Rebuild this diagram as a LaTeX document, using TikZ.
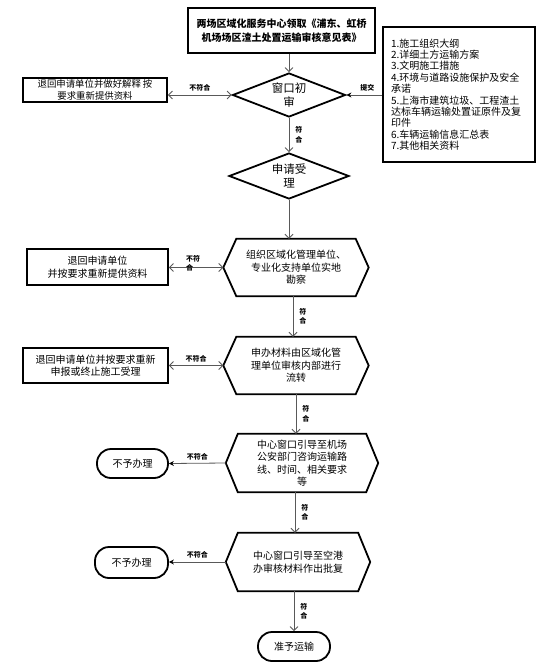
\documentclass[tikz,border=0pt]{standalone}
\usepackage{fontspec}
\setmainfont{Noto Sans CJK SC}
\usetikzlibrary{shapes.geometric,arrows.meta}
\tikzset{
  txt/.style={font=\fontsize{10}{12.5}\selectfont, align=center, inner sep=0pt},
  thickbox/.style={txt, draw=black, line width=1.8pt, rectangle},
  dia/.style={shape=diamond, draw=black, line width=1.8pt, inner sep=0pt, font=\fontsize{11.5}{14}\selectfont, align=center},
  hexbox/.style={txt, rectangle, draw=none},
  hexline/.style={draw=black, line width=1.8pt, line join=miter},
  term/.style={txt, draw=black, line width=1.8pt, rounded corners=14pt},
  lbl/.style={font=\fontsize{7}{9.5}\selectfont\bfseries, inner sep=1pt, align=left},
  arr/.style={draw=black!65, line width=0.8pt, -{Straight Barb[length=4pt,width=8pt]}},
  darr/.style={draw=black!65, line width=0.8pt, {Straight Barb[length=4pt,width=8pt]}-{Straight Barb[length=4pt,width=8pt]}},
  farr/.style={draw=black!65, line width=0.8pt, -{Stealth[length=5pt,width=5pt,color=black]}},
}
\newcommand{\hexdraw}[2]{%
  \draw[hexline] ([xshift=#2]#1.north west) -- ([xshift=-#2]#1.north east) -- (#1.east) -- ([xshift=-#2]#1.south east) -- ([xshift=#2]#1.south west) -- (#1.west) -- cycle;}
\begin{document}
\begin{tikzpicture}[x=1pt,y=-1pt]
\useasboundingbox[fill=white] (0,0) rectangle (555,672);

% top box
\node[thickbox, line width=2.2pt, minimum width=187pt, minimum height=45pt, font=\fontsize{10}{14}\selectfont\bfseries] (top) at (281.5,30.5)
  {两场区域化服务中心领取《浦东、虹桥\\机场场区渣土处置运输审核意见表》};

% material list
\node[draw=black, line width=1.4pt, minimum width=152pt, minimum height=135pt, inner xsep=8pt, inner ysep=0pt, text width=136pt, align=left, font=\fontsize{10}{11.4}\selectfont] (mat) at (459,94.5)
  {1.施工组织大纲\\2.详细土方运输方案\\3.文明施工措施\\4.环境与道路设施保护及安全\\承诺\\5.上海市建筑垃圾、工程渣土\\达标车辆运输处置证原件及复\\印件\\6.车辆运输信息汇总表\\7.其他相关资料};

% diamonds
\node[dia, minimum width=113pt, minimum height=44pt, aspect=2.57] (d1) at (289,95) {窗口初\\审};
\node[dia, minimum width=120pt, minimum height=46pt, aspect=2.6] (d2) at (289,176) {申请受\\理};

% hexagons
\node[hexbox, minimum width=145pt, minimum height=57pt] (h1) at (296,267.5) {组织区域化管理单位、\\专业化支持单位实地\\勘察};
\hexdraw{h1}{13pt}
\node[hexbox, minimum width=145pt, minimum height=57pt] (h2) at (296,365.5) {申办材料由区域化管\\理单位审核内部进行\\流转};
\hexdraw{h2}{13pt}
\node[hexbox, minimum width=152pt, minimum height=58pt] (h3) at (302,463) {中心窗口引导至机场\\公安部门咨询运输路\\线、时间、相关要求\\等};
\hexdraw{h3}{12pt}
\node[hexbox, minimum width=144pt, minimum height=58pt] (h4) at (298,562) {中心窗口引导至空港\\办审核材料作出批复};
\hexdraw{h4}{12pt}

% left boxes
\node[thickbox, minimum width=144pt, minimum height=24pt, font=\fontsize{9.4}{12}\selectfont] (b1) at (95,90) {退回申请单位并做好解释\hspace{2pt}按\\要求重新提供资料};
\node[thickbox, minimum width=141pt, minimum height=36pt] (b2) at (97.5,267) {退回申请单位\\并按要求重新提供资料};
\node[thickbox, minimum width=145pt, minimum height=35pt] (b3) at (95.5,365.5) {退回申请单位并按要求重新\\申报或终止施工受理};

% terminals
\node[term, minimum width=71pt, minimum height=29pt] (t1) at (132.5,463.5) {不予办理};
\node[term, minimum width=73pt, minimum height=31pt] (t2) at (131.5,562.5) {不予办理};
\node[term, minimum width=72pt, minimum height=29pt] (ok) at (294,646.5) {准予运输};

% connectors
\draw[arr] (top.south -| d1.north) -- (d1.north);
\draw[farr] (d1.east -| mat.west) -- node[lbl, above=2pt, xshift=3pt] {提交} (d1.east);
\draw[darr] (d1.west) -- node[lbl, above=2pt] {不符合} (d1.west -| b1.east);
\draw[arr] (d1.south) -- node[lbl, right=5pt] {符\\合} (d2.north);
\draw[arr] (d2.south) -- (d2.south |- h1.north);
\draw[darr] (h1.west) -- node[lbl, yshift=4pt, xshift=-3pt] {不符\\合} (h1.west -| b2.east);
\draw[arr] ([xshift=-3pt]h1.south) -- node[lbl, right=5pt] {符\\合} ([xshift=-3pt]h1.south |- h2.north);
\draw[darr] (h2.west) -- node[lbl, above=2pt] {不符合} (h2.west -| b3.east);
\draw[arr] ([xshift=-6pt]h2.south -| h3.north) -- node[lbl, right=5pt] {符\\合} ([xshift=-6pt]h3.north);
\draw[farr] (h3.west) -- node[lbl, above=2pt] {不符合} (t1.east);
\draw[arr] ([xshift=-7pt]h3.south) -- node[lbl, right=5pt] {符\\合} ([xshift=-7pt]h3.south |- h4.north);
\draw[farr] (h4.west) -- node[lbl, above=2pt] {不符合} (h4.west -| t2.east);
\draw[arr] (h4.south -| ok.north) -- node[lbl, right=5pt] {符\\合} (ok.north);
\end{tikzpicture}
\end{document}
